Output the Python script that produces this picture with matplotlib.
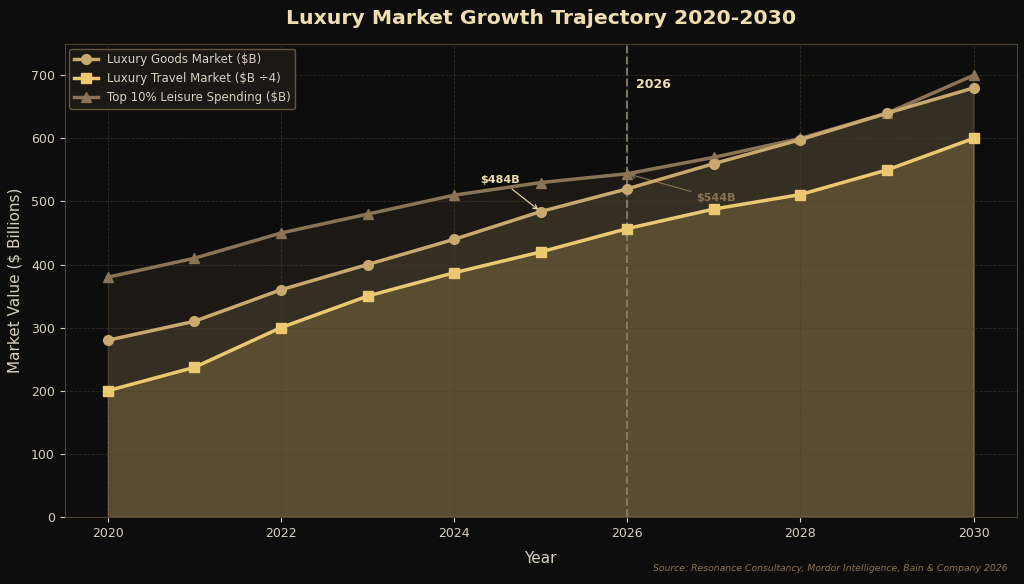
import numpy as np
import matplotlib
matplotlib.use("Agg")
from matplotlib import pyplot as plt

years = [2020, 2021, 2022, 2023, 2024, 2025, 2026, 2027, 2028, 2029, 2030]
luxury_goods = [280, 310, 360, 400, 440, 484, 520, 560, 598, 640, 680]
luxury_travel = [200, 237, 300, 350, 387, 420, 457, 488, 511, 550, 600]
leisure_spend = [380, 410, 450, 480, 510, 530, 544, 570, 600, 640, 700]

BG = "#0d0d0d"
GOLD = "#c9a96e"
YELLOW = "#ecc870"
BROWN = "#8b7355"
CREAM = "#f0deb0"
TEXT = "#d8d0c0"

fig, ax = plt.subplots(figsize=(10.24, 5.84), dpi=100)
fig.patch.set_facecolor(BG)
ax.set_facecolor(BG)

ax.fill_between(years, 0, leisure_spend, color=BROWN, alpha=0.12, zorder=1)
ax.fill_between(years, 0, luxury_goods, color=GOLD, alpha=0.15, zorder=1)
ax.fill_between(years, 0, luxury_travel, color=YELLOW, alpha=0.2, zorder=1)

ax.plot(years, luxury_goods, color=GOLD, lw=2.5, marker="o", ms=7,
        label="Luxury Goods Market ($B)", zorder=4)
ax.plot(years, luxury_travel, color=YELLOW, lw=2.5, marker="s", ms=7,
        label="Luxury Travel Market ($B ÷4)", zorder=4)
ax.plot(years, leisure_spend, color=BROWN, lw=2.5, marker="^", ms=6.5,
        label="Top 10% Leisure Spending ($B)", zorder=3)

ax.axvline(2026, color="#8a8070", ls="--", lw=1.5, alpha=0.9, zorder=2)
ax.text(2026.1, 680, "2026", color=CREAM, fontsize=9, fontweight="bold")

ax.annotate("$484B", xy=(2025, luxury_goods[5]), xytext=(2024.3, 530),
            color=CREAM, fontsize=8, fontweight="bold",
            arrowprops=dict(arrowstyle="->", color=CREAM, lw=0.8))
ax.annotate("$544B", xy=(2026, leisure_spend[6]), xytext=(2026.8, 500),
            color=BROWN, fontsize=8, fontweight="bold",
            arrowprops=dict(arrowstyle="->", color=BROWN, lw=0.8))

ax.set_xlim(2019.5, 2030.5)
ax.set_ylim(0, 750)
ax.set_xticks([2020, 2022, 2024, 2026, 2028, 2030])
ax.set_yticks(range(0, 800, 100))
ax.tick_params(colors=TEXT, labelsize=9)
for s in ax.spines.values():
    s.set_color("#4a4030")
ax.grid(True, color="#4a4030", ls="--", lw=0.6, alpha=0.6)

ax.set_xlabel("Year", color=TEXT, fontsize=11, labelpad=8)
ax.set_ylabel("Market Value ($ Billions)", color=TEXT, fontsize=11, labelpad=6)
ax.set_title("Luxury Market Growth Trajectory 2020-2030", color=CREAM,
             fontsize=14.7, fontweight="bold", pad=14)

leg = ax.legend(loc="upper left", facecolor="#1c1a17", edgecolor="#6a5a40",
                fontsize=8.5, framealpha=0.95, borderaxespad=0.4)
for t in leg.get_texts():
    t.set_color(TEXT)

fig.text(0.984, 0.022, "Source: Resonance Consultancy, Mordor Intelligence, Bain & Company 2026",
         ha="right", color=BROWN, fontsize=6.7, style="italic")

plt.subplots_adjust(left=0.063, right=0.993, top=0.925, bottom=0.115)
plt.savefig("out.png", facecolor=BG)
